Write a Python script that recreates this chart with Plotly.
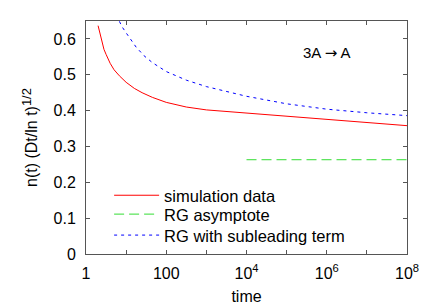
import plotly.graph_objects as go

# --- data ---
sim_time = [2.0, 2.24, 2.5, 2.8, 3.16, 4.0, 5.0, 6.8, 10, 16, 25, 45, 100, 316, 1e3, 1e4, 1e5, 1e6, 1e7, 1e8]
sim_vals = [0.637, 0.612, 0.590, 0.571, 0.557, 0.532, 0.514, 0.497, 0.479, 0.462, 0.450, 0.437,
            0.423, 0.410, 0.402, 0.393, 0.384, 0.375, 0.366, 0.358]

rg_time = [1e4, 1e8]
rg_vals = [0.263, 0.263]

sub_time = [6.8, 7.9, 10, 12.6, 17.8, 28, 45, 100, 316, 1e3, 3.16e3, 1e4, 1e5, 1e6, 1e7, 1e8]
sub_vals = [0.649, 0.634, 0.617, 0.600, 0.577, 0.553, 0.534, 0.509, 0.485, 0.467, 0.453, 0.440,
            0.419, 0.404, 0.394, 0.386]

x_tickvals = [1, 10, 100, 1e3, 1e4, 1e5, 1e6, 1e7, 1e8]
x_ticktext = ["1", "", "100", "", "10<sup>4</sup>", "", "10<sup>6</sup>", "", "10<sup>8</sup>"]
y_tickvals = [0, 0.1, 0.2, 0.3, 0.4, 0.5, 0.6]
y_ticktext = ["0", "0.1", "0.2", "0.3", "0.4", "0.5", "0.6"]

FONT = "Liberation Sans, Arial, Helvetica, sans-serif"

fig = go.Figure()
fig.add_trace(go.Scatter(x=sim_time, y=sim_vals, mode="lines", name="simulation data",
                         line=dict(color="#ff0000", width=1), legend="legend"))
fig.add_trace(go.Scatter(x=rg_time, y=rg_vals, mode="lines", name="RG asymptote",
                         line=dict(color="#33dd33", width=1, dash="10px,5px"), legend="legend2"))
fig.add_trace(go.Scatter(x=sub_time, y=sub_vals, mode="lines", name="RG with subleading term",
                         line=dict(color="#0000ff", width=1, dash="3px,4px"), legend="legend3"))

fig.add_annotation(x=6, y=0.560, xref="x", yref="y",
                   text="3A <span style='font-family:DejaVu Sans'>\u2192</span> A", showarrow=False,
                   font=dict(size=15, color="black", family=FONT))

leg_common = dict(x=0.072, xanchor="left", yanchor="middle", bgcolor="rgba(0,0,0,0)",
                  font=dict(size=16.5), itemwidth=45)

fig.update_layout(
    width=436, height=305,
    margin=dict(l=86, r=29, t=21, b=51),
    paper_bgcolor="white", plot_bgcolor="white",
    font=dict(family=FONT, size=16, color="black"),
    showlegend=True,
    legend=dict(y=0.251, **leg_common),
    legend2=dict(y=0.170, **leg_common),
    legend3=dict(y=0.080, **leg_common),
    xaxis=dict(type="log", range=[0, 8], tickvals=x_tickvals, ticktext=x_ticktext,
               ticks="inside", ticklen=4, tickcolor="#555", showgrid=False, zeroline=False,
               showline=True, linecolor="#555", linewidth=1, mirror="ticks", automargin=False,
               ticklabelstandoff=5,
               title=dict(text="time", standoff=10, font=dict(size=16)), tickfont=dict(size=16)),
    yaxis=dict(range=[0, 0.65], tickvals=y_tickvals, ticktext=y_ticktext,
               ticks="inside", ticklen=4, tickcolor="#555", showgrid=False, zeroline=False,
               showline=True, linecolor="#555", linewidth=1, mirror="ticks", automargin=False,
               ticklabelstandoff=6,
               title=dict(text="n(t) (Dt/ln t)<sup><span style='font-size:13px'>1/2</span></sup>",
                          standoff=11, font=dict(size=16)),
               tickfont=dict(size=16)),
)

fig.write_html("out.html", config={"displayModeBar": False},
               post_script="document.body.style.margin='0';")
